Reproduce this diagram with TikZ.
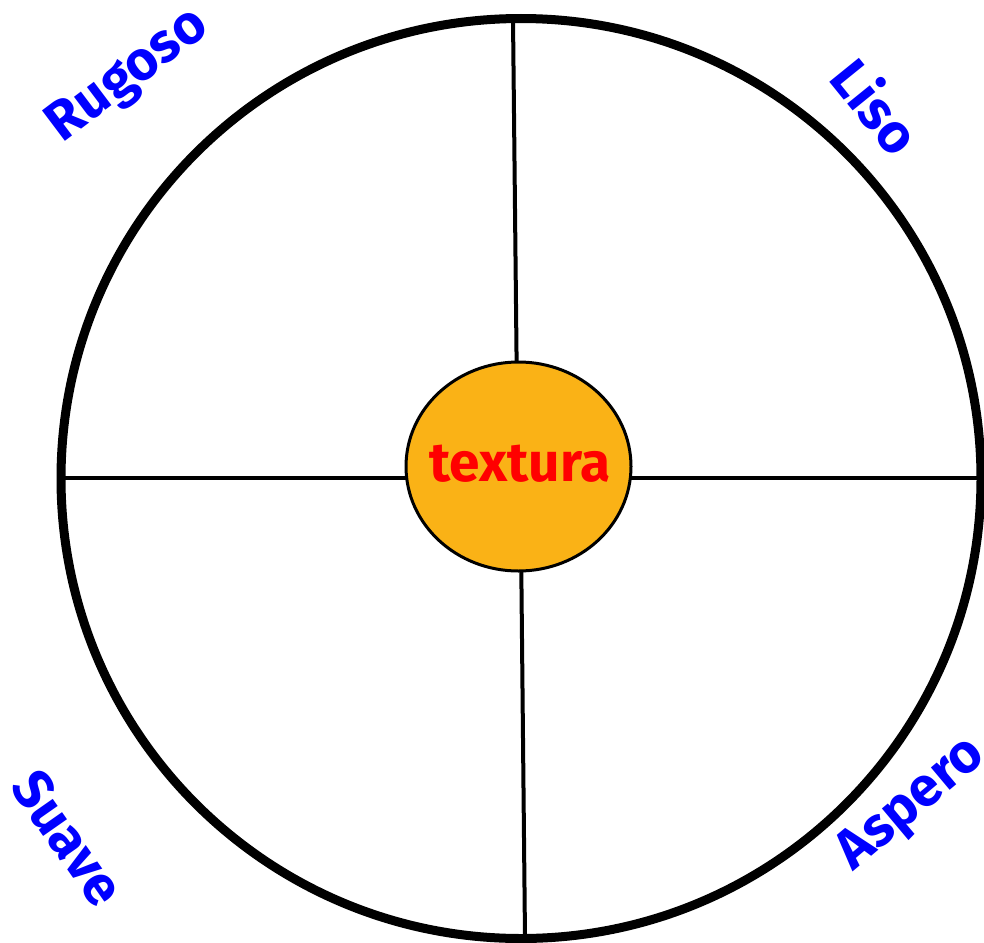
\documentclass[tikz,border=0pt]{standalone}
\usepackage{fontspec}
\setmainfont{Fira Sans}
\usetikzlibrary{shapes.geometric}
\definecolor{hubfill}{RGB}{250,178,22}
\definecolor{lblblue}{RGB}{0,0,255}
\definecolor{hubred}{RGB}{255,0,0}
\begin{document}
\begin{tikzpicture}[x=1pt,y=-1pt,
  spoke/.style={line width=4pt},
  rimline/.style={line width=9pt},
  lbl/.style={text=lblblue,font=\fontsize{55}{55}\selectfont\bfseries,inner sep=0pt}]
\useasboundingbox (0,0) rectangle (984,942);
\fill[white] (0,0) rectangle (984,942);
\node[draw, circle, rimline, minimum size=920pt, inner sep=0pt] (rim) at (521,478.5) {};
% spoke end points
\coordinate (nt) at (513,19);
\coordinate (ht) at (517,400);
\coordinate (nb) at (525,938);
\coordinate (hb) at (521,540);
\coordinate (nl) at (61,478);
\coordinate (hl) at (440,478);
\coordinate (nr) at (990,478);
\coordinate (hr) at (600,478);
\draw[spoke] (nt) -- (ht);
\draw[spoke] (hb) -- (nb);
\draw[spoke] (nl) -- (hl);
\draw[spoke] (hr) -- (nr);
\node[draw, ellipse, line width=3pt, fill=hubfill, minimum width=225pt, minimum height=209pt, inner sep=0pt] (hub) at (518.5,466.5) {};
\node[text=hubred, font=\fontsize{55}{55}\selectfont\bfseries, inner sep=0pt] (hubtext) at (520,464) {textura};
\node[lbl, rotate=37] (rugoso) at (129,77) {Rugoso};
\node[lbl, rotate=-51] (liso) at (877,106) {Liso};
\node[lbl, rotate=-55] (suave) at (68,838) {Suave};
\node[lbl, rotate=40] (aspero) at (912,805) {Aspero};
\end{tikzpicture}
\end{document}
